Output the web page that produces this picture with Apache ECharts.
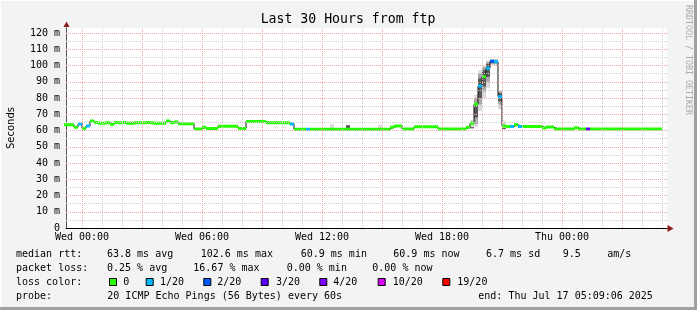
<!DOCTYPE html>
<html><head><meta charset="utf-8">
<script src="https://cdn.jsdelivr.net/npm/echarts@6/dist/echarts.min.js"></script>
<style>html,body{margin:0;padding:0;background:#f3f3f3}#c{width:697px;height:310px}</style>
</head><body><div id="c"></div>
<script>
// ---------------- data ----------------
const chartTitle = 'Last 30 Hours from ftp';
const yAxisName = 'Seconds';
const watermark = 'RRDTOOL / TOBI OETIKER';
const xTickHours = [0, 6, 12, 18, 24];
const xTickLabels = ['Wed 00:00', 'Wed 06:00', 'Wed 12:00', 'Wed 18:00', 'Thu 00:00'];
const yTickValues = [0, 10, 20, 30, 40, 50, 60, 70, 80, 90, 100, 110, 120];
const yTickLabels = ['0', '10 m', '20 m', '30 m', '40 m', '50 m', '60 m', '70 m', '80 m', '90 m', '100 m', '110 m', '120 m'];
const xRange = [-0.8, 29.25];        // hours relative to Wed 00:00
const yRange = [0, 123.08];          // ms
const firstBinHour = -1.0;
const binHours = 0.2;                // 12-minute consolidated bins
const medianMs = [
  63.6, 63.6, 63.6, 62.0, 64.0, 61.3, 62.8, 65.8, 65.0, 64.4,
  64.4, 64.8, 63.9, 65.0, 64.7, 65.0, 64.4, 64.4, 64.8, 64.8,
  64.8, 65.0, 64.7, 64.4, 64.4, 64.4, 65.8, 64.8, 65.2, 64.2,
  64.2, 64.2, 64.2, 60.9, 60.9, 62.0, 61.3, 61.3, 61.3, 62.6,
  62.6, 62.6, 62.6, 62.6, 61.3, 61.3, 65.6, 65.6, 65.6, 65.6,
  65.6, 64.8, 64.8, 64.8, 64.8, 64.8, 64.8, 64.0, 60.7, 60.7,
  60.7, 60.7, 60.8, 60.8, 60.8, 60.8, 60.8, 60.8, 60.8, 60.8,
  60.8, 60.8, 60.8, 60.8, 60.8, 60.8, 60.8, 60.8, 60.8, 60.8,
  60.8, 60.8, 62.0, 62.8, 62.8, 60.9, 60.9, 60.9, 62.3, 62.3,
  62.3, 62.3, 62.3, 62.3, 61.0, 61.0, 61.0, 61.0, 61.0, 61.0,
  61.0, 62.0, 64.4, 76.1, 87.4, 93.1, 98.3, 102.6, 102.3, 80.8,
  62.8, 62.5, 62.5, 63.6, 62.5, 62.5, 62.5, 62.5, 62.5, 62.5,
  61.6, 62.1, 62.1, 60.9, 60.9, 60.9, 60.9, 60.9, 61.7, 60.9,
  60.9, 60.9, 60.9, 60.9, 60.9, 60.9, 60.9, 60.9, 60.9, 60.9,
  60.9, 60.9, 60.9, 60.9, 60.9, 60.9, 60.9, 60.9, 60.9, 60.9
];
// bins with packet loss (all other bins: 0 loss)
const lossBins   = [4, 6, 57, 61, 104, 106, 107, 108, 109, 112, 114, 131];
const lossLevels = [1, 1, 1,  1,  1,   1,   2,   1,   1,   1,   1,   3];
const lossNames  = ['0', '1/20', '2/20', '3/20', '4/20', '10/20', '19/20'];
const lossColors = ['#26ff00', '#00b8ff', '#0059ff', '#5e00ff', '#7e00ff', '#dd00ff', '#ff0000'];
// smoke (ping spread) for bins where it is visible
const smokeBins  = [67,   71,   79,   102,  103,  104,  105,  106,  107,   108,   109,  110];
const smokeLo    = [61.3, 61.5, 61.5, 62.0, 62.0, 72.0, 80.0, 86.0, 100.0, 100.0, 73.0, 61.5];
const smokeMidLo = [61.3, 61.5, 61.5, 62.0, 64.0, 76.0, 84.0, 90.0, 101.0, 101.0, 76.0, 61.5];
const smokeInLo  = [61.3, 61.5, 61.5, 62.0, 68.0, 80.0, 87.0, 93.0, 101.5, 101.5, 78.0, 61.5];
const smokeInHi  = [61.3, 63.2, 61.5, 62.0, 77.0, 92.0, 97.0, 101.0, 103.0, 103.0, 83.0, 61.5];
const smokeMidHi = [61.3, 63.2, 61.5, 62.0, 80.0, 95.0, 99.0, 102.0, 103.5, 103.5, 84.0, 61.5];
const smokeHi    = [64.0, 63.2, 63.5, 66.5, 82.0, 97.0, 100.0, 103.0, 104.0, 104.0, 85.0, 66.0];
const legendRows = [
  [['median rtt:', 16], ['63.8 ms avg', 107], ['102.6 ms max', 200.7], ['60.9 ms min', 300.7], ['60.9 ms now', 393.3], ['6.7 ms sd', 486], ['9.5', 562.7], ['am/s', 607.3]],
  [['packet loss:', 16], ['0.25 % avg', 107], ['16.67 % max', 193.3], ['0.00 % min', 286.7], ['0.00 % now', 372.3]],
  [['loss color:', 16]],
  [['probe:', 16], ['20 ICMP Echo Pings (56 Bytes) every 60s', 107.3], ['end: Thu Jul 17 05:09:06 2025', 478.3]]
];
const legendBoxX  = [109, 145.7, 203.3, 260.7, 319.3, 377.7, 442.3];
const legendNameX = [123.3, 160, 217.3, 276, 333.3, 392.7, 457.3];

// ---------------- layout / style ----------------
const G = { left: 66, top: 28, width: 601, height: 200 };
const rowY = [254.5, 268.5, 282.5, 296.5];
const MONO = 'DejaVu Sans Mono';
const gridRed = '#eea8a8', gridGrey = '#cfcfcf';

const chart = echarts.init(document.getElementById('c'), null, { renderer: 'canvas' });

const binStart = k => firstBinHour + k * binHours;

// median (black thin step line)
const medianData = medianMs.map((v, k) => [binStart(k), v]);
medianData.push([binStart(medianMs.length), medianMs[medianMs.length - 1]]);

// coloured loss segments
const levelOfBin = medianMs.map(() => 0);
lossBins.forEach((b, i) => { levelOfBin[b] = lossLevels[i]; });
const lossSeries = lossColors.map((col, L) => {
  const d = [];
  medianMs.forEach((v, k) => {
    if (levelOfBin[k] === L) { d.push([binStart(k), v], [binStart(k + 1), v], [binStart(k + 1), null]); }
  });
  return {
    type: 'line', name: lossNames[L], data: d, showSymbol: false, symbol: 'none',
    lineStyle: { color: col, width: 3, cap: 'butt' }, connectNulls: false,
    silent: true, animation: false, z: 4
  };
});

// smoke rectangles
const smokeShades = ['#dadada', '#a8a8a8', '#5a5a5a'];
const smokeData = [];
smokeBins.forEach((b, i) => {
  smokeData.push([binStart(b), binStart(b + 1), smokeLo[i], smokeHi[i], 0]);
  smokeData.push([binStart(b), binStart(b + 1), smokeMidLo[i], smokeMidHi[i], 1]);
  smokeData.push([binStart(b), binStart(b + 1), smokeInLo[i], smokeInHi[i], 2]);
});

// grid lines
const vLines = [];
for (let h = Math.ceil(xRange[0]); h <= Math.floor(xRange[1]); h++) {
  vLines.push({ xAxis: h, lineStyle: { color: h % 3 === 0 ? gridRed : gridGrey } });
}
const hLines = [];
for (let v = 5; v <= 120; v += 5) {
  hLines.push({ yAxis: v, lineStyle: { color: v % 10 === 0 ? gridRed : gridGrey } });
}

const texts = [];
legendRows.forEach((row, r) => row.forEach(([t, x]) => texts.push({
  type: 'text', x: x, y: rowY[r], silent: true,
  style: { text: t, font: '10px "' + MONO + '"', fill: '#000', verticalAlign: 'middle', textAlign: 'left' }
})));
lossNames.forEach((n, i) => {
  texts.push({ type: 'rect', silent: true, shape: { x: legendBoxX[i] + 0.5, y: rowY[2] - 4, width: 7, height: 7 },
    style: { fill: lossColors[i], stroke: '#000', lineWidth: 1 } });
  texts.push({ type: 'text', x: legendNameX[i], y: rowY[2], silent: true,
    style: { text: n, font: '10px "' + MONO + '"', fill: '#000', verticalAlign: 'middle' } });
});

const option = {
  animation: false,
  backgroundColor: '#f3f3f3',
  grid: { left: G.left, top: G.top, width: G.width, height: G.height, backgroundColor: '#ffffff', show: true, borderWidth: 0 },
  xAxis: {
    type: 'value', min: xRange[0], max: xRange[1],
    axisLine: { show: true, onZero: false, lineStyle: { color: '#000', width: 1 } },
    axisTick: { show: false },
    splitLine: { show: false },
    axisLabel: {
      customValues: xTickHours,
      formatter: v => { const i = xTickHours.indexOf(v); return i >= 0 ? xTickLabels[i] : ''; },
      fontFamily: MONO, fontSize: 10, color: '#000', margin: 4
    }
  },
  yAxis: {
    type: 'value', min: yRange[0], max: yRange[1], interval: 10,
    axisLine: { show: true, onZero: false, lineStyle: { color: '#555', width: 1 } },
    axisTick: { show: false },
    splitLine: { show: false },
    axisLabel: {
      formatter: v => { const i = yTickValues.indexOf(Math.round(v * 1000) / 1000); return i >= 0 ? yTickLabels[i] : ''; },
      fontFamily: MONO, fontSize: 10, color: '#000', margin: 6
    }
  },
  series: [
    {
      type: 'line', data: [], silent: true, z: 1, symbol: 'none',
      markLine: {
        silent: true, symbol: ['none', 'none'], label: { show: false }, animation: false,
        lineStyle: { type: [1, 1], width: 1 },
        data: vLines.concat(hLines)
      }
    },
    {
      type: 'custom', silent: true, z: 2, animation: false,
      data: smokeData,
      renderItem: (params, api) => {
        const p0 = api.coord([api.value(0), api.value(3)]);
        const p1 = api.coord([api.value(1), api.value(2)]);
        return { type: 'rect', shape: { x: p0[0], y: p0[1], width: p1[0] - p0[0], height: Math.max(p1[1] - p0[1], 1) },
          style: { fill: smokeShades[api.value(4)] } };
      }
    },
    {
      type: 'line', data: medianData, step: 'end', symbol: 'none', showSymbol: false, silent: true, z: 3,
      lineStyle: { color: '#101010', width: 1 }
    }
  ].concat(lossSeries),
  graphic: [
    { type: 'rect', silent: true, shape: { x: 0, y: 0, width: 697, height: 1 }, style: { fill: '#ffffff' } },
    { type: 'rect', silent: true, shape: { x: 0, y: 0, width: 1, height: 310 }, style: { fill: '#ffffff' } },
    { type: 'rect', silent: true, shape: { x: 694, y: 0, width: 3, height: 310 }, style: { fill: '#a0a0a0' } },
    { type: 'rect', silent: true, shape: { x: 0, y: 307, width: 697, height: 3 }, style: { fill: '#a0a0a0' } },
    { type: 'text', x: 348, y: 20, silent: true,
      style: { text: chartTitle, font: '13.2px "' + MONO + '"', fill: '#000', textAlign: 'center', verticalAlign: 'middle' } },
    { type: 'text', x: 11, y: 128, rotation: Math.PI / 2, silent: true,
      style: { text: yAxisName, font: '10px "DejaVu Sans"', fill: '#000', textAlign: 'center', verticalAlign: 'middle' } },
    { type: 'text', x: 688, y: 60, rotation: -Math.PI / 2, silent: true,
      style: { text: watermark, font: '8.3px "' + MONO + '"', fill: '#aaaaaa', textAlign: 'center', verticalAlign: 'middle' } },
    { type: 'polygon', silent: true, shape: { points: [[66.5, 21.5], [63.5, 27], [69.5, 27]] }, style: { fill: '#8b1a1a' } },
    { type: 'polygon', silent: true, shape: { points: [[673.5, 228.5], [667.5, 225], [667.5, 232]] }, style: { fill: '#8b1a1a' } }
  ].concat(texts)
};
chart.setOption(option);
</script></body></html>
